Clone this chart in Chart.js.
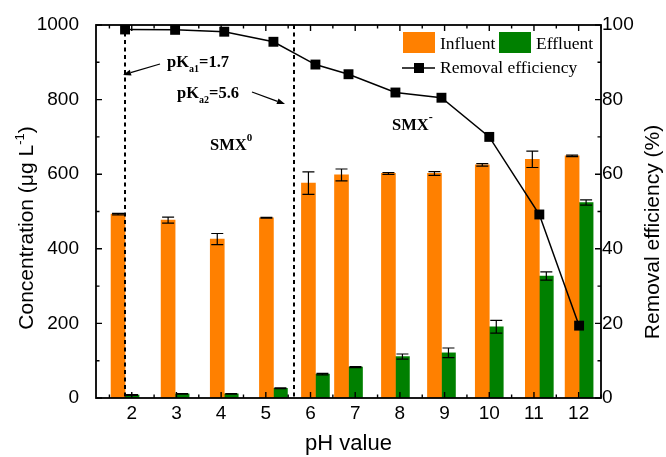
<!DOCTYPE html>
<html>
<head>
<meta charset="utf-8">
<script src="https://cdn.jsdelivr.net/npm/chart.js@4.4.0/dist/chart.umd.min.js"></script>
<style>
  html, body { margin: 0; padding: 0; background: #fff; }
</style>
</head>
<body>
<canvas id="chart" width="666" height="457"></canvas>
<script>
// values
const phValues    = [1.85, 2.97, 4.07, 5.17, 6.11, 6.85, 7.90, 8.93, 10.0, 11.12, 12.01];
const influent    = [493, 477, 426, 483, 576, 598, 602, 602, 625, 640, 649];
const influentErr = [2, 8, 15, 1, 30, 16, 2.5, 5, 3.5, 22, 2];
const effluent    = [8, 11, 11, 26, 64, 83, 111, 121, 191, 327, 524];
const effluentErr = [1, 1, 1, 1, 2, 1.5, 7, 13, 17, 11, 7];
const removal     = [98.8, 98.7, 98.2, 95.5, 89.4, 86.8, 81.9, 80.5, 70.0, 49.2, 19.4];
const xTicks      = [2, 3, 4, 5, 6, 7, 8, 9, 10, 11, 12];
const pKaLines    = [1.85, 5.62];

const ORANGE = '#FF8000';
const GREEN = '#008000';
const SANS = '"Liberation Sans", Arial, sans-serif';
const SERIF = '"Liberation Serif", "Times New Roman", serif';

const pts = arr => arr.map((v, i) => ({ x: phValues[i], y: v }));

function drawParts(ctx, x, y, parts) {
    // parts: [text, font, dy]
    let cx = x;
    parts.forEach(p => {
        ctx.font = p[1];
        ctx.fillText(p[0], cx, y + (p[2] || 0));
        cx += ctx.measureText(p[0]).width;
    });
    return cx;
}

function partsWidth(ctx, parts) {
    let w = 0;
    parts.forEach(p => { ctx.font = p[1]; w += ctx.measureText(p[0]).width; });
    return w;
}

const decor = {
    id: 'decor',
    afterDatasetDraw(chart, args) {
        const ds = chart.data.datasets[args.index];
        if (!ds.errors) return;
        const y = chart.scales.y, ctx = chart.ctx;
        ctx.save();
        ctx.strokeStyle = '#000';
        ctx.lineWidth = 1.2;
        args.meta.data.forEach((bar, i) => {
            const v = ds.data[i].y, e = ds.errors[i];
            const t = y.getPixelForValue(v + e), b = y.getPixelForValue(v - e);
            const hw = 6;
            ctx.beginPath();
            ctx.moveTo(bar.x, t); ctx.lineTo(bar.x, b);
            ctx.moveTo(bar.x - hw, t); ctx.lineTo(bar.x + hw, t);
            ctx.moveTo(bar.x - hw, b); ctx.lineTo(bar.x + hw, b);
            ctx.stroke();
        });
        ctx.restore();
    },
    afterDraw(chart) {
        const ctx = chart.ctx;
        const a = chart.chartArea;
        const sx = chart.scales.x, sy = chart.scales.y, sy2 = chart.scales.y2;
        ctx.save();

        // dashed pKa lines
        ctx.strokeStyle = '#000';
        ctx.lineWidth = 2;
        ctx.setLineDash([4, 3.5]);
        pKaLines.forEach(v => {
            const px = Math.round(sx.getPixelForValue(v));
            ctx.beginPath();
            ctx.moveTo(px, a.top);
            ctx.lineTo(px, a.bottom);
            ctx.stroke();
        });
        ctx.setLineDash([]);

        // frame
        ctx.lineWidth = 1.8;
        ctx.strokeRect(a.left, a.top, a.right - a.left, a.bottom - a.top);

        // ticks (inside)
        ctx.lineWidth = 1.4;
        ctx.beginPath();
        for (let v = 1.5; v <= 12.5; v += 0.5) {
            const px = sx.getPixelForValue(v);
            const len = Number.isInteger(v) ? 6 : 3.5;
            ctx.moveTo(px, a.bottom); ctx.lineTo(px, a.bottom - len);
            ctx.moveTo(px, a.top); ctx.lineTo(px, a.top + len);
        }
        for (let v = 0; v <= 1000; v += 100) {
            const py = sy.getPixelForValue(v);
            const len = v % 200 === 0 ? 6 : 3.5;
            ctx.moveTo(a.left, py); ctx.lineTo(a.left + len, py);
        }
        for (let v = 0; v <= 100; v += 10) {
            const py = sy2.getPixelForValue(v);
            const len = v % 20 === 0 ? 6 : 3.5;
            ctx.moveTo(a.right, py); ctx.lineTo(a.right - len, py);
        }
        ctx.stroke();

        // axis titles
        ctx.fillStyle = '#000';
        ctx.textBaseline = 'middle';
        const leftTitle = [
            ['Concentration (\u03bcg L', '21px ' + SANS],
            ['-1', '13px ' + SANS, -7],
            [')', '21px ' + SANS]
        ];
        ctx.save();
        ctx.translate(27, 228);
        ctx.rotate(-Math.PI / 2);
        drawParts(ctx, -partsWidth(ctx, leftTitle) / 2, 0, leftTitle);
        ctx.restore();

        const rightTitle = [['Removal efficiency (%)', '21px ' + SANS]];
        ctx.save();
        ctx.translate(653, 232);
        ctx.rotate(-Math.PI / 2);
        drawParts(ctx, -partsWidth(ctx, rightTitle) / 2, 0, rightTitle);
        ctx.restore();

        // annotations
        ctx.textBaseline = 'alphabetic';
        const B = 'bold 16.5px ' + SERIF, Bs = 'bold 10px ' + SERIF;
        drawParts(ctx, 167, 67, [['pK', B], ['a1', Bs, 5], ['=1.7', B]]);
        drawParts(ctx, 177, 98, [['pK', B], ['a2', Bs, 5], ['=5.6', B]]);
        drawParts(ctx, 210, 150, [['SMX', B], ['0', 'bold 11px ' + SERIF, -9]]);
        drawParts(ctx, 392, 130, [['SMX', B], ['-', 'bold 12px ' + SERIF, -9]]);

        // arrows
        const arrow = (x1, y1, x2, y2) => {
            const ang = Math.atan2(y2 - y1, x2 - x1), L = 8, W = 3;
            ctx.lineWidth = 1.3;
            ctx.beginPath();
            ctx.moveTo(x1, y1);
            ctx.lineTo(x2 - L * Math.cos(ang), y2 - L * Math.sin(ang));
            ctx.stroke();
            ctx.beginPath();
            ctx.moveTo(x2, y2);
            ctx.lineTo(x2 - L * Math.cos(ang) + W * Math.sin(ang), y2 - L * Math.sin(ang) - W * Math.cos(ang));
            ctx.lineTo(x2 - L * Math.cos(ang) - W * Math.sin(ang), y2 - L * Math.sin(ang) + W * Math.cos(ang));
            ctx.closePath();
            ctx.fill();
        };
        arrow(160, 64, 123, 75);
        arrow(252, 92, 285, 104);

        // legend
        const ds = chart.data.datasets;
        const L = '17.5px ' + SERIF;
        ctx.font = L;
        ctx.fillStyle = ds[1].backgroundColor;
        ctx.fillRect(403, 32, 32, 21);
        ctx.fillStyle = ds[2].backgroundColor;
        ctx.fillRect(499, 32, 32, 21);
        ctx.fillStyle = '#000';
        ctx.fillText(ds[1].label, 440, 48.5);
        ctx.fillText(ds[2].label, 536, 48.5);
        ctx.lineWidth = 1.5;
        ctx.beginPath();
        ctx.moveTo(402, 68); ctx.lineTo(435, 68);
        ctx.stroke();
        ctx.fillRect(414, 63, 10, 10);
        ctx.fillText(ds[0].label, 440, 73);

        ctx.restore();
    }
};

new Chart(document.getElementById('chart'), {
    type: 'bar',
    data: {
        datasets: [
            {
                type: 'line',
                label: 'Removal efficiency',
                data: pts(removal),
                yAxisID: 'y2',
                borderColor: '#000',
                borderWidth: 1.5,
                pointStyle: 'rect',
                pointRadius: 7,
                pointBackgroundColor: '#000',
                pointBorderWidth: 0,
                order: 0
            },
            {
                label: 'Influent',
                data: pts(influent),
                errors: influentErr,
                backgroundColor: ORANGE,
                barThickness: 14,
                yAxisID: 'y',
                order: 1
            },
            {
                label: 'Effluent',
                data: pts(effluent),
                errors: effluentErr,
                backgroundColor: GREEN,
                barThickness: 14,
                yAxisID: 'y',
                order: 1
            }
        ]
    },
    options: {
        responsive: false,
        animation: false,
        layout: { padding: { top: 25, left: 0, right: 0, bottom: 0 } },
        plugins: { legend: { display: false }, tooltip: { enabled: false } },
        scales: {
            x: {
                type: 'linear',
                offset: false,
                min: 1.2,
                max: 12.5,
                afterBuildTicks: s => { s.ticks = xTicks.map(v => ({ value: v })); },
                afterFit: s => { s.height = 59; },
                grid: { display: false, tickLength: 0 },
                border: { display: false },
                ticks: { color: '#000', font: { family: SANS, size: 19 }, padding: 4, maxRotation: 0 },
                title: { display: true, text: 'pH value', color: '#000', font: { family: SANS, size: 22 }, padding: { top: 0, bottom: 0 } }
            },
            y: {
                position: 'left',
                min: 0,
                max: 1000,
                afterFit: s => { s.width = 96; },
                grid: { display: false },
                border: { display: false },
                ticks: { stepSize: 200, color: '#000', font: { family: SANS, size: 19 }, padding: 9, callback: v => String(v) }
            },
            y2: {
                position: 'right',
                min: 0,
                max: 100,
                afterFit: s => { s.width = 65; },
                grid: { display: false, tickLength: 0 },
                border: { display: false },
                ticks: { stepSize: 20, color: '#000', font: { family: SANS, size: 19 }, padding: 1, callback: v => String(v) }
            }
        }
    },
    plugins: [decor]
});
</script>
</body>
</html>
